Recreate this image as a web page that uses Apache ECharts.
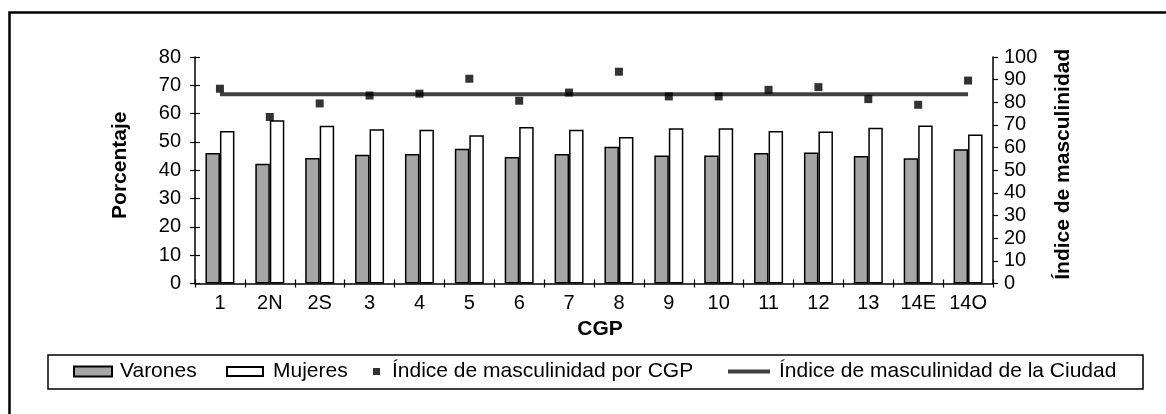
<!DOCTYPE html>
<html>
<head>
<meta charset="utf-8">
<script src="https://cdn.jsdelivr.net/npm/echarts@6/dist/echarts.min.js"></script>
<style>
html,body{margin:0;padding:0;background:#fff;}
#chart{width:1166px;height:414px;}
</style>
</head>
<body>
<div id="chart"></div>
<script>
const categories = ['1','2N','2S','3','4','5','6','7','8','9','10','11','12','13','14E','14O'];
const varones = [46.1, 42.3, 44.3, 45.5, 45.7, 47.6, 44.7, 45.7, 48.3, 45.2, 45.2, 46.1, 46.3, 45.0, 44.2, 47.4];
const mujeres = [53.9, 57.7, 55.7, 54.5, 54.3, 52.4, 55.3, 54.3, 51.7, 54.8, 54.8, 53.9, 53.7, 55.0, 55.8, 52.6];
const indiceCGP = [86.0, 73.5, 79.5, 83.0, 83.8, 90.4, 80.7, 84.3, 93.5, 82.6, 82.6, 85.5, 86.7, 81.4, 78.9, 89.6];
const indiceCiudad = [83.5, 83.5, 83.5, 83.5, 83.5, 83.5, 83.5, 83.5, 83.5, 83.5, 83.5, 83.5, 83.5, 83.5, 83.5, 83.5];
const names = ['Varones', 'Mujeres', 'Índice de masculinidad por CGP', 'Índice de masculinidad de la Ciudad'];

const FONT = 'Liberation Sans, Arial, sans-serif';
const chart = echarts.init(document.getElementById('chart'), null, {renderer: 'canvas'});

function legendAt(name, left, w, h, icon, padLeft) {
  return {
    data: [{name: name, icon: icon}],
    left: left, top: 361, padding: 0,
    itemWidth: w, itemHeight: h,
    selectedMode: false,
    textStyle: {fontFamily: FONT, fontSize: 21, color: '#000', padding: [0, 0, 0, padLeft]}
  };
}

chart.setOption({
  animation: false,
  backgroundColor: '#fff',
  textStyle: {fontFamily: FONT},
  grid: {left: 195, right: 173, top: 57, bottom: 130.5},
  graphic: [
    {type: 'rect', shape: {x: 9.5, y: 12.5, width: 1300, height: 600}, style: {fill: 'none', stroke: '#000', lineWidth: 2.5}, z: 0},
    {type: 'rect', shape: {x: 48, y: 355, width: 1095, height: 34}, style: {fill: '#fff', stroke: '#000', lineWidth: 1.5}, z: 0}
  ],
  legend: [
    legendAt(names[0], 73, 38, 10, 'rect', 3),
    legendAt(names[1], 226, 36, 9, 'rect', 5),
    legendAt(names[2], 373, 7, 7, 'rect', 7),
    legendAt(names[3], 728, 42, 4, 'rect', 4)
  ],
  xAxis: [
    {
      type: 'category', data: categories, position: 'bottom',
      name: 'CGP', nameLocation: 'middle', nameGap: 33,
      nameTextStyle: {fontFamily: FONT, fontSize: 21, fontWeight: 'bold', color: '#000', padding: [0, 0, 0, 12]},
      axisLine: {lineStyle: {color: '#000', width: 1.5}},
      axisTick: {show: true, length: 4, lineStyle: {color: '#000', width: 1.2}},
      axisLabel: {fontFamily: FONT, fontSize: 20, color: '#000', margin: 10, interval: 0}
    },
    {
      type: 'category', data: categories, position: 'bottom',
      axisLine: {show: false},
      axisTick: {show: true, inside: true, length: 4, lineStyle: {color: '#000', width: 1.2}},
      axisLabel: {show: false}
    }
  ],
  yAxis: [
    {
      type: 'value', min: 0, max: 80, interval: 10, position: 'left',
      name: 'Porcentaje', nameLocation: 'middle', nameGap: 64, nameRotate: 90,
      nameTextStyle: {fontFamily: FONT, fontSize: 21, fontWeight: 'bold', color: '#000', padding: [0, 0, 0, 10]},
      axisLine: {show: true, lineStyle: {color: '#000', width: 1.5}},
      axisTick: {show: true, length: 5, lineStyle: {color: '#000', width: 1.2}},
      axisLabel: {fontFamily: FONT, fontSize: 20, color: '#000', margin: 14},
      splitLine: {show: false}
    },
    {
      type: 'value', min: 0, max: 100, interval: 10, position: 'right',
      name: 'Índice de masculinidad', nameLocation: 'middle', nameGap: 60, nameRotate: 90,
      nameTextStyle: {fontFamily: FONT, fontSize: 21, fontWeight: 'bold', color: '#000', padding: [0, 0, 0, 12]},
      axisLine: {show: true, lineStyle: {color: '#000', width: 1.5}},
      axisTick: {show: true, length: 5, lineStyle: {color: '#000', width: 1.2}},
      axisLabel: {fontFamily: FONT, fontSize: 20, color: '#000', margin: 11},
      splitLine: {show: false}
    },
    {
      type: 'value', min: 0, max: 80, interval: 10, position: 'left',
      axisLine: {show: false},
      axisTick: {show: true, inside: true, length: 5, lineStyle: {color: '#000', width: 1.2}},
      axisLabel: {show: false},
      splitLine: {show: false}
    }
  ],
  series: [
    {
      name: names[0], type: 'bar', data: varones, xAxisIndex: 0, yAxisIndex: 0,
      barWidth: 14.5, barGap: '0%',
      itemStyle: {color: '#a6a6a6', borderColor: '#000', borderWidth: 1.5}
    },
    {
      name: names[1], type: 'bar', data: mujeres, xAxisIndex: 0, yAxisIndex: 0,
      barWidth: 14.5, barGap: '0%',
      itemStyle: {color: '#ffffff', borderColor: '#000', borderWidth: 1.5}
    },
    {
      name: names[3], type: 'line', data: indiceCiudad, xAxisIndex: 0, yAxisIndex: 1,
      symbol: 'none', color: '#404040',
      lineStyle: {color: '#404040', width: 4}, itemStyle: {color: '#404040'}, z: 3
    },
    {
      name: names[2], type: 'scatter', data: indiceCGP, xAxisIndex: 0, yAxisIndex: 1,
      symbol: 'rect', symbolSize: 8, itemStyle: {color: '#000'}, z: 4
    }
  ]
});
</script>
</body>
</html>
